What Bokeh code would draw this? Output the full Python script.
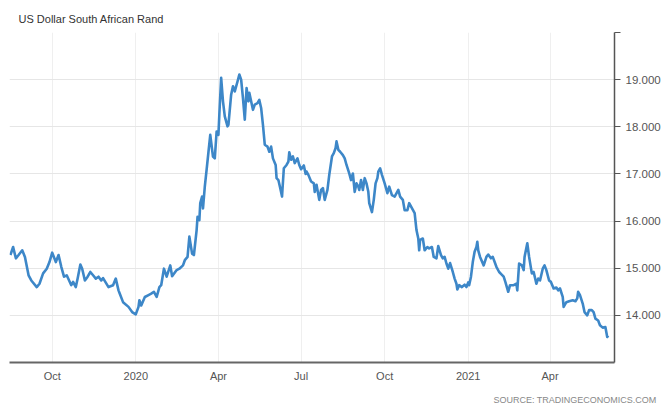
import pandas as pd
from bokeh.plotting import figure
from bokeh.models import (Range1d, FixedTicker, NumeralTickFormatter, Title,
                          ColumnDataSource)
from bokeh.embed import file_html
from bokeh.resources import INLINE

# ---- data ----
dates = [
    "2019-08-16", "2019-08-19", "2019-08-22", "2019-08-25", "2019-08-29",
    "2019-09-01", "2019-09-05", "2019-09-08", "2019-09-14", "2019-09-17",
    "2019-09-21", "2019-09-25", "2019-09-28", "2019-10-01", "2019-10-05",
    "2019-10-08", "2019-10-11", "2019-10-14", "2019-10-17", "2019-10-22",
    "2019-10-24", "2019-10-27", "2019-10-29", "2019-11-01", "2019-11-03",
    "2019-11-06", "2019-11-09", "2019-11-12", "2019-11-15", "2019-11-18",
    "2019-11-21", "2019-11-24", "2019-11-26", "2019-12-02", "2019-12-07",
    "2019-12-10", "2019-12-13", "2019-12-14", "2019-12-18", "2019-12-24",
    "2019-12-28", "2020-01-01", "2020-01-04", "2020-01-05", "2020-01-07",
    "2020-01-11", "2020-01-15", "2020-01-18", "2020-01-21", "2020-01-24",
    "2020-01-27", "2020-01-29", "2020-02-01", "2020-02-04", "2020-02-08",
    "2020-02-10", "2020-02-15", "2020-02-18", "2020-02-22", "2020-02-24",
    "2020-02-27", "2020-02-29", "2020-03-03", "2020-03-05", "2020-03-08",
    "2020-03-09", "2020-03-11", "2020-03-12", "2020-03-14", "2020-03-15",
    "2020-03-17", "2020-03-19", "2020-03-21", "2020-03-23", "2020-03-26",
    "2020-03-28", "2020-03-30", "2020-04-01", "2020-04-02", "2020-04-04",
    "2020-04-06", "2020-04-08", "2020-04-11", "2020-04-12", "2020-04-15",
    "2020-04-17", "2020-04-19", "2020-04-22", "2020-04-24", "2020-04-26",
    "2020-04-28", "2020-04-30", "2020-05-02", "2020-05-04", "2020-05-05",
    "2020-05-07", "2020-05-09", "2020-05-11", "2020-05-14", "2020-05-16",
    "2020-05-18", "2020-05-20", "2020-05-22", "2020-05-25", "2020-05-27",
    "2020-05-29", "2020-05-31", "2020-06-03", "2020-06-04", "2020-06-06",
    "2020-06-08", "2020-06-10", "2020-06-12", "2020-06-15", "2020-06-17",
    "2020-06-18", "2020-06-20", "2020-06-22", "2020-06-24", "2020-06-27",
    "2020-06-29", "2020-07-01", "2020-07-04", "2020-07-06", "2020-07-07",
    "2020-07-09", "2020-07-12", "2020-07-15", "2020-07-16", "2020-07-18",
    "2020-07-21", "2020-07-23", "2020-07-25", "2020-07-27", "2020-07-30",
    "2020-08-01", "2020-08-04", "2020-08-06", "2020-08-08", "2020-08-09",
    "2020-08-11", "2020-08-13", "2020-08-16", "2020-08-18", "2020-08-20",
    "2020-08-23", "2020-08-25", "2020-08-27", "2020-08-29", "2020-08-31",
    "2020-09-02", "2020-09-03", "2020-09-05", "2020-09-07", "2020-09-09",
    "2020-09-11", "2020-09-13", "2020-09-14", "2020-09-17", "2020-09-19",
    "2020-09-21", "2020-09-23", "2020-09-24", "2020-09-26", "2020-09-28",
    "2020-10-01", "2020-10-04", "2020-10-06", "2020-10-09", "2020-10-12",
    "2020-10-16", "2020-10-18", "2020-10-21", "2020-10-23", "2020-10-26",
    "2020-10-28", "2020-11-03", "2020-11-05", "2020-11-07", "2020-11-08",
    "2020-11-09", "2020-11-12", "2020-11-14", "2020-11-17", "2020-11-19",
    "2020-11-22", "2020-11-24", "2020-11-27", "2020-11-29", "2020-12-02",
    "2020-12-04", "2020-12-06", "2020-12-08", "2020-12-10", "2020-12-12",
    "2020-12-15", "2020-12-17", "2020-12-19", "2020-12-20", "2020-12-22",
    "2020-12-25", "2020-12-28", "2020-12-30", "2021-01-01", "2021-01-02",
    "2021-01-04", "2021-01-06", "2021-01-08", "2021-01-10", "2021-01-11",
    "2021-01-12", "2021-01-14", "2021-01-18", "2021-01-21", "2021-01-23",
    "2021-01-26", "2021-01-28", "2021-02-01", "2021-02-04", "2021-02-06",
    "2021-02-09", "2021-02-11", "2021-02-14", "2021-02-16", "2021-02-20",
    "2021-02-23", "2021-02-24", "2021-02-26", "2021-03-01", "2021-03-03",
    "2021-03-04", "2021-03-07", "2021-03-09", "2021-03-12", "2021-03-14",
    "2021-03-17", "2021-03-19", "2021-03-21", "2021-03-24", "2021-03-26",
    "2021-03-28", "2021-03-31", "2021-04-02", "2021-04-05", "2021-04-08",
    "2021-04-10", "2021-04-12", "2021-04-15", "2021-04-16", "2021-04-19",
    "2021-04-22", "2021-04-26", "2021-04-29", "2021-05-01", "2021-05-02",
    "2021-05-04", "2021-05-07", "2021-05-09", "2021-05-12", "2021-05-14",
    "2021-05-17", "2021-05-19", "2021-05-21", "2021-05-24", "2021-05-26",
    "2021-05-29", "2021-06-01", "2021-06-03", "2021-06-04",
]

rates = [
    15.28, 15.45, 15.21, 15.28, 15.38,
    15.24, 14.85, 14.74, 14.60, 14.67,
    14.89, 14.99, 15.13, 15.33, 15.13,
    15.28, 15.03, 14.82, 14.85, 14.64,
    14.71, 14.60, 14.78, 15.08, 14.99,
    14.74, 14.82, 14.92, 14.85, 14.78,
    14.82, 14.74, 14.79, 14.60, 14.64,
    14.78, 14.53, 14.48, 14.28, 14.18,
    14.07, 14.02, 14.18, 14.32, 14.21,
    14.39, 14.43, 14.46, 14.50, 14.39,
    14.60, 14.64, 14.99, 14.82, 15.06,
    14.83, 14.96, 14.99, 15.06, 15.17,
    15.24, 15.67, 15.31, 15.28, 15.81,
    16.09, 16.02, 16.38, 16.52, 16.27,
    16.73, 17.09, 17.46, 17.83, 17.37,
    17.33, 17.90, 17.83, 18.26, 19.04,
    18.54, 18.22, 18.01, 18.04, 18.68,
    18.86, 18.75, 18.96, 19.11, 19.00,
    18.61, 18.15, 18.82, 18.54, 18.72,
    18.54, 18.36, 18.47, 18.50, 18.57,
    18.40, 18.04, 17.62, 17.58, 17.47,
    17.58, 17.33, 17.19, 16.91, 16.87,
    16.70, 16.52, 17.12, 17.19, 17.26,
    17.46, 17.30, 17.37, 17.23, 17.33,
    17.19, 17.10, 17.18, 17.00, 17.05,
    16.98, 16.84, 16.80, 16.62, 16.77,
    16.45, 16.66, 16.70, 16.45, 16.66,
    16.98, 17.37, 17.44, 17.55, 17.69,
    17.51, 17.47, 17.40, 17.33, 17.19,
    17.01, 16.87, 17.01, 16.62, 16.80,
    16.73, 16.66, 16.87, 16.66, 16.91,
    16.80, 16.62, 16.38, 16.19, 16.45,
    16.80, 16.91, 17.05, 17.12, 16.98,
    16.80, 16.59, 16.73, 16.55, 16.52,
    16.66, 16.52, 16.45, 16.23, 16.23,
    16.38, 16.17, 15.81, 15.63, 15.38,
    15.60, 15.63, 15.38, 15.45, 15.42,
    15.45, 15.24, 15.21, 15.47, 15.28,
    15.21, 15.24, 15.10, 14.99, 15.11,
    14.92, 14.78, 14.67, 14.55, 14.64,
    14.60, 14.65, 14.60, 14.70, 14.64,
    14.82, 15.13, 15.35, 15.45, 15.56,
    15.38, 15.24, 15.06, 15.24, 15.29,
    15.21, 15.24, 15.03, 14.92, 14.88,
    14.82, 14.70, 14.50, 14.64, 14.64,
    14.67, 14.53, 15.10, 15.06, 14.96,
    15.24, 15.53, 15.24, 14.89, 14.92,
    14.67, 14.78, 14.74, 14.99, 15.06,
    14.96, 14.74, 14.71, 14.57, 14.59,
    14.53, 14.57, 14.39, 14.18, 14.28,
    14.30, 14.32, 14.30, 14.36, 14.50,
    14.43, 14.25, 14.07, 14.00, 14.11,
    14.11, 14.07, 13.93, 13.89, 13.79,
    13.74, 13.75, 13.54, 13.57,
]

x_tick_dates = ["2019-10-01", "2020-01-01", "2020-04-01", "2020-07-01",
                "2020-10-01", "2021-01-01", "2021-04-01"]
x_tick_labels = ["Oct", "2020", "Apr", "Jul", "Oct", "2021", "Apr"]
y_ticks = [14, 15, 16, 17, 18, 19, 20]

title_text = "US Dollar South African Rand"
source_text = "SOURCE: TRADINGECONOMICS.COM"

FONT = "Liberation Sans"

src = ColumnDataSource(dict(date=pd.to_datetime(dates), rate=rates))

x_start = pd.Timestamp("2019-08-15")
x_end = pd.Timestamp("2021-06-11")

p = figure(frame_width=605, frame_height=330, x_axis_type="datetime",
           y_axis_location="right", output_backend="svg",
           toolbar_location=None,
           x_range=Range1d(x_start, x_end), y_range=Range1d(13, 20),
           min_border_left=9, min_border_right=0, min_border_top=32,
           min_border_bottom=46)

p.title.text = title_text
p.title.text_font = FONT
p.title.text_font_size = "11px"
p.title.text_font_style = "normal"
p.title.text_color = "#333333"
p.title.offset = 9
p.title.standoff = 15

p.line("date", "rate", source=src, line_color="#3d87c8", line_width=2.6,
       line_join="round")

p.outline_line_color = None
p.background_fill_color = "white"
p.border_fill_color = "white"

# x axis
tick_ms = [int(t.value // 10**6) for t in pd.to_datetime(x_tick_dates)]
xa = p.xaxis[0]
xa.ticker = FixedTicker(ticks=tick_ms)
xa.major_label_overrides = {k: lab for k, lab in zip(tick_ms, x_tick_labels)}
xa.axis_line_color = "#666666"
xa.axis_line_width = 2
xa.major_tick_line_color = None
xa.minor_tick_line_color = None
xa.major_label_text_font = FONT
xa.major_label_text_font_size = "11px"
xa.major_label_text_color = "#555555"
xa.major_label_standoff = 1

# y axis (right)
ya = p.yaxis[0]
ya.ticker = FixedTicker(ticks=y_ticks)
ya.formatter = NumeralTickFormatter(format="0.000")
ya.major_label_overrides = {20: ""}
ya.axis_line_color = "#555555"
ya.axis_line_width = 1.5
ya.major_tick_line_color = "#555555"
ya.major_tick_out = 6
ya.major_tick_in = 0
ya.minor_tick_line_color = None
ya.major_label_text_font = FONT
ya.major_label_text_font_size = "11.5px"
ya.major_label_text_color = "#555555"
ya.major_label_standoff = 5

p.xgrid.ticker = FixedTicker(ticks=tick_ms)
p.xgrid.grid_line_color = "#efefef"
p.ygrid.ticker = FixedTicker(ticks=y_ticks)
p.ygrid.grid_line_color = "#e6e6e6"

p.add_layout(Title(text=source_text, align="right", offset=-42,
                   text_font=FONT, text_font_size="9px",
                   text_font_style="normal", text_color="#888888",
                   standoff=16), "below")

open("out.html", "w").write(file_html(p, INLINE))
